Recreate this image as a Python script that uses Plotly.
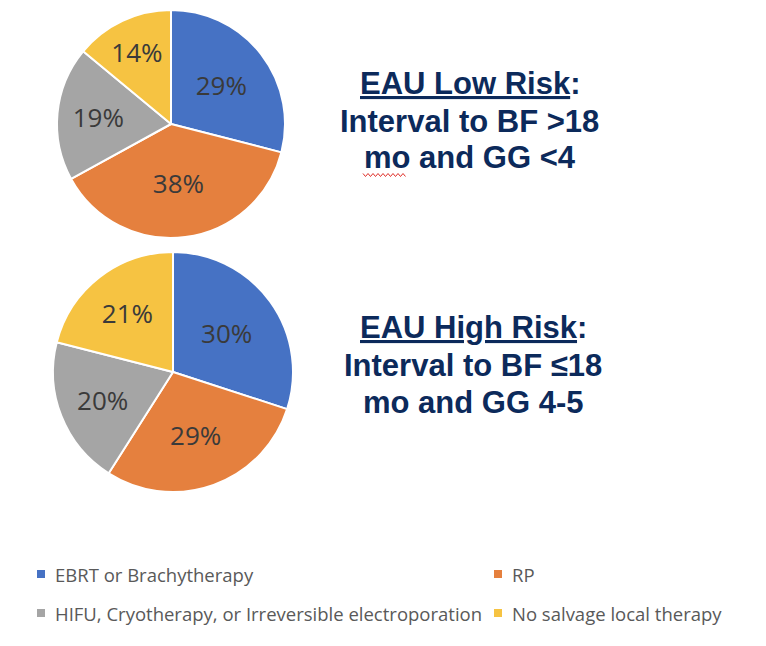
import plotly.graph_objects as go

# ---- data ----
categories = ["EBRT or Brachytherapy", "RP",
              "HIFU, Cryotherapy, or Irreversible electroporation",
              "No salvage local therapy"]
low_risk_pct = [29, 38, 19, 14]
high_risk_pct = [30, 29, 20, 21]
low_title = ["<u>EAU Low Risk</u>:", "Interval to BF >18", "mo and GG <4"]
high_title = ["<u>EAU High Risk</u>:", "Interval to BF ≤18", "mo and GG 4-5"]

colors = ["#4672C4", "#E5803E", "#A5A5A5", "#F6C342"]

W, H = 766, 646
def px_x(v):
    return v / W
def px_y(v):
    return 1 - v / H

fig = go.Figure()

def add_pie(vals, cx, cy, r):
    fig.add_trace(go.Pie(
        labels=categories, values=vals, sort=False, direction="clockwise",
        rotation=0, marker=dict(colors=colors, line=dict(color="white", width=2)),
        texttemplate="%{value}%", textposition="inside",
        insidetextorientation="horizontal",
        textfont=dict(family="Open Sans", size=26, color="#3A3A3A"),
        domain=dict(x=[px_x(cx - r), px_x(cx + r)], y=[px_y(cy + r), px_y(cy - r)]),
        showlegend=False, hoverinfo="label+percent"))

add_pie(low_risk_pct, 171, 124, 114)
add_pie(high_risk_pct, 173, 372, 120)

annotations = []
def add_title(lines, cx, centers):
    for line, cy in zip(lines, centers):
        annotations.append(dict(
            text="<b>" + line + "</b>", x=px_x(cx), y=px_y(cy), xref="paper", yref="paper",
            xanchor="center", yanchor="middle", showarrow=False,
            font=dict(family="Liberation Sans", size=31, color="#0C2A5B")))

add_title(low_title, 470, [83, 122, 158])
add_title(high_title, 473, [327, 365, 402])

# legend (manual, two columns)
leg_pos = [(41, 574), (498, 574), (41, 613), (498, 613)]
shapes = []
for name, col, (mx, my) in zip(categories, colors, leg_pos):
    shapes.append(dict(type="rect", xref="paper", yref="paper",
                       x0=px_x(mx - 4), x1=px_x(mx + 4), y0=px_y(my + 4), y1=px_y(my - 4),
                       fillcolor=col, line=dict(width=0)))
    annotations.append(dict(
        text=name, x=px_x(mx + 12), y=px_y(my), xref="paper", yref="paper",
        xanchor="left", yanchor="middle", showarrow=False,
        font=dict(family="Open Sans", size=18.5, color="#595959")))

# spell-check squiggle under "mo"
zx0, zx1, zy = 363, 407, 175
pts = []
x = zx0
i = 0
while x <= zx1:
    yy = zy + (1.5 if i % 2 else -1.5)
    pts.append(f"{px_x(x):.5f},{px_y(yy):.5f}")
    x += 2.5
    i += 1
path = "M" + " L".join(pts)
shapes.append(dict(type="path", xref="paper", yref="paper", path=path,
                   line=dict(color="#E0302A", width=1)))

fig.update_layout(
    width=W, height=H, margin=dict(l=0, r=0, t=0, b=0),
    paper_bgcolor="white", plot_bgcolor="white",
    annotations=annotations, shapes=shapes)

fig.write_html("out.html")
